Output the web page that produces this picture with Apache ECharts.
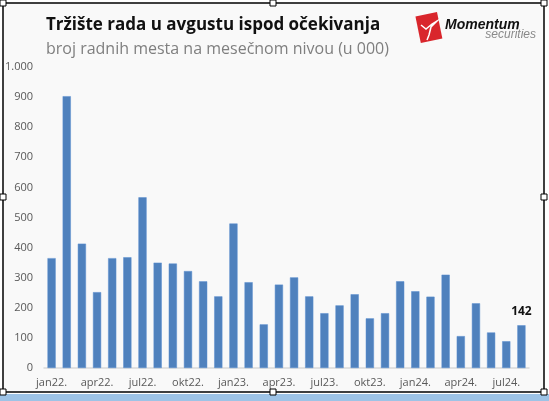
<!DOCTYPE html>
<html>
<head>
    <meta charset="UTF-8">
    <title>Tržište rada</title>
    <script src="https://cdn.jsdelivr.net/npm/echarts@6/dist/echarts.min.js"></script>
    <style>
        html, body { margin: 0; padding: 0; background: #fff; }
        #chart { width: 549px; height: 401px; }
    </style>
</head>
<body>
    <div id="chart"></div>
    <script>
        // mesečni podaci, jan 2022 - avg 2024 (u 000)
        const months = [
            'jan22.', 'feb22.', 'mar22.', 'apr22.', 'maj22.', 'jun22.', 'jul22.', 'avg22.', 'sep22.', 'okt22.', 'nov22.', 'dec22.',
            'jan23.', 'feb23.', 'mar23.', 'apr23.', 'maj23.', 'jun23.', 'jul23.', 'avg23.', 'sep23.', 'okt23.', 'nov23.', 'dec23.',
            'jan24.', 'feb24.', 'mar24.', 'apr24.', 'maj24.', 'jun24.', 'jul24.', 'avg24.'
        ];
        const jobs = [
            365, 903, 413, 252, 365, 368, 567, 350, 347, 322, 288, 238,
            480, 285, 145, 277, 301, 238, 182, 208, 245, 165, 182, 288,
            255, 237, 310, 106, 215, 118, 89, 142
        ];
        const yTicks = [0, 100, 200, 300, 400, 500, 600, 700, 800, 900, 1000];

        const chart = echarts.init(document.getElementById('chart'));

        // okvir i ručke za selekciju kao na slici
        const handles = [[3, 3], [273, 3], [544, 3], [3, 197], [544, 197], [3, 392], [273, 392], [544, 392]];
        const graphics = [
            { type: 'rect', shape: { x: 0, y: 394, width: 549, height: 7 }, style: { fill: '#9dc3e6' }, z: 0 },
            { type: 'rect', shape: { x: 3, y: 3, width: 541, height: 389 }, style: { fill: '#f9f9f9', stroke: '#000', lineWidth: 1.5 }, z: -1 },
            {
                type: 'rect', shape: { x: 0, y: 0, width: 22, height: 27 }, x: 418, y: 14,
                rotation: 0.2, originX: 11, originY: 14,
                style: { fill: '#d9262c' }
            },
            // bela figura u logotipu (grubo)
            {
                type: 'polyline', shape: { points: [[421, 25], [426, 29], [432, 24], [437, 21], [431, 27], [429, 35], [427, 40]] },
                style: { stroke: '#fff', lineWidth: 1.5, fill: null }
            },
            { type: 'text', x: 445, y: 25, style: { text: 'Momentum', font: 'italic bold 14px "Liberation Sans"', fill: '#111', verticalAlign: 'middle' } },
            { type: 'text', x: 536, y: 35, style: { text: 'securities', font: 'italic 12px "Liberation Sans"', fill: '#8a8a8a', align: 'right', verticalAlign: 'middle' } }
        ];
        handles.forEach(h => graphics.push({
            type: 'rect', shape: { x: h[0] - 3, y: h[1] - 3, width: 6, height: 6 },
            style: { fill: '#fff', stroke: '#000', lineWidth: 1 }, z: 10
        }));

        chart.setOption({
            backgroundColor: '#fff',
            animation: false,
            title: {
                text: 'Tržište rada u avgustu ispod očekivanja',
                subtext: 'broj radnih mesta na mesečnom nivou (u 000)',
                left: 41, top: 12, itemGap: 7,
                textStyle: { fontFamily: 'Open Sans', fontWeight: 'bold', fontSize: 17, color: '#111' },
                subtextStyle: { fontFamily: 'Open Sans', fontSize: 16, color: '#7f7f7f' }
            },
            graphic: graphics,
            grid: { left: 44, right: 20, top: 67, bottom: 33 },
            xAxis: {
                type: 'category',
                data: months,
                axisTick: { show: false },
                axisLine: { lineStyle: { color: '#d9d9d9', width: 1.5 } },
                axisLabel: { interval: 2, color: '#595959', fontSize: 11, fontFamily: 'Open Sans', margin: 9 }
            },
            yAxis: {
                type: 'value',
                min: 0, max: 1000, interval: 100,
                splitLine: { show: false },
                axisLabel: {
                    color: '#595959', fontSize: 11, fontFamily: 'Open Sans', margin: 11,
                    formatter: v => yTicks.includes(v) ? (v >= 1000 ? '1.000' : String(v)) : ''
                }
            },
            series: [{
                type: 'bar',
                data: jobs.map((v, i) => i === jobs.length - 1
                    ? { value: v, label: { show: true, position: 'top', distance: 8, fontWeight: 'bold', fontSize: 12, color: '#111', fontFamily: 'Open Sans' } }
                    : v),
                barWidth: '54%',
                itemStyle: { color: '#4f81bd', borderColor: '#5b8fd0', borderWidth: 0.5 }
            }]
        });
    </script>
</body>
</html>
